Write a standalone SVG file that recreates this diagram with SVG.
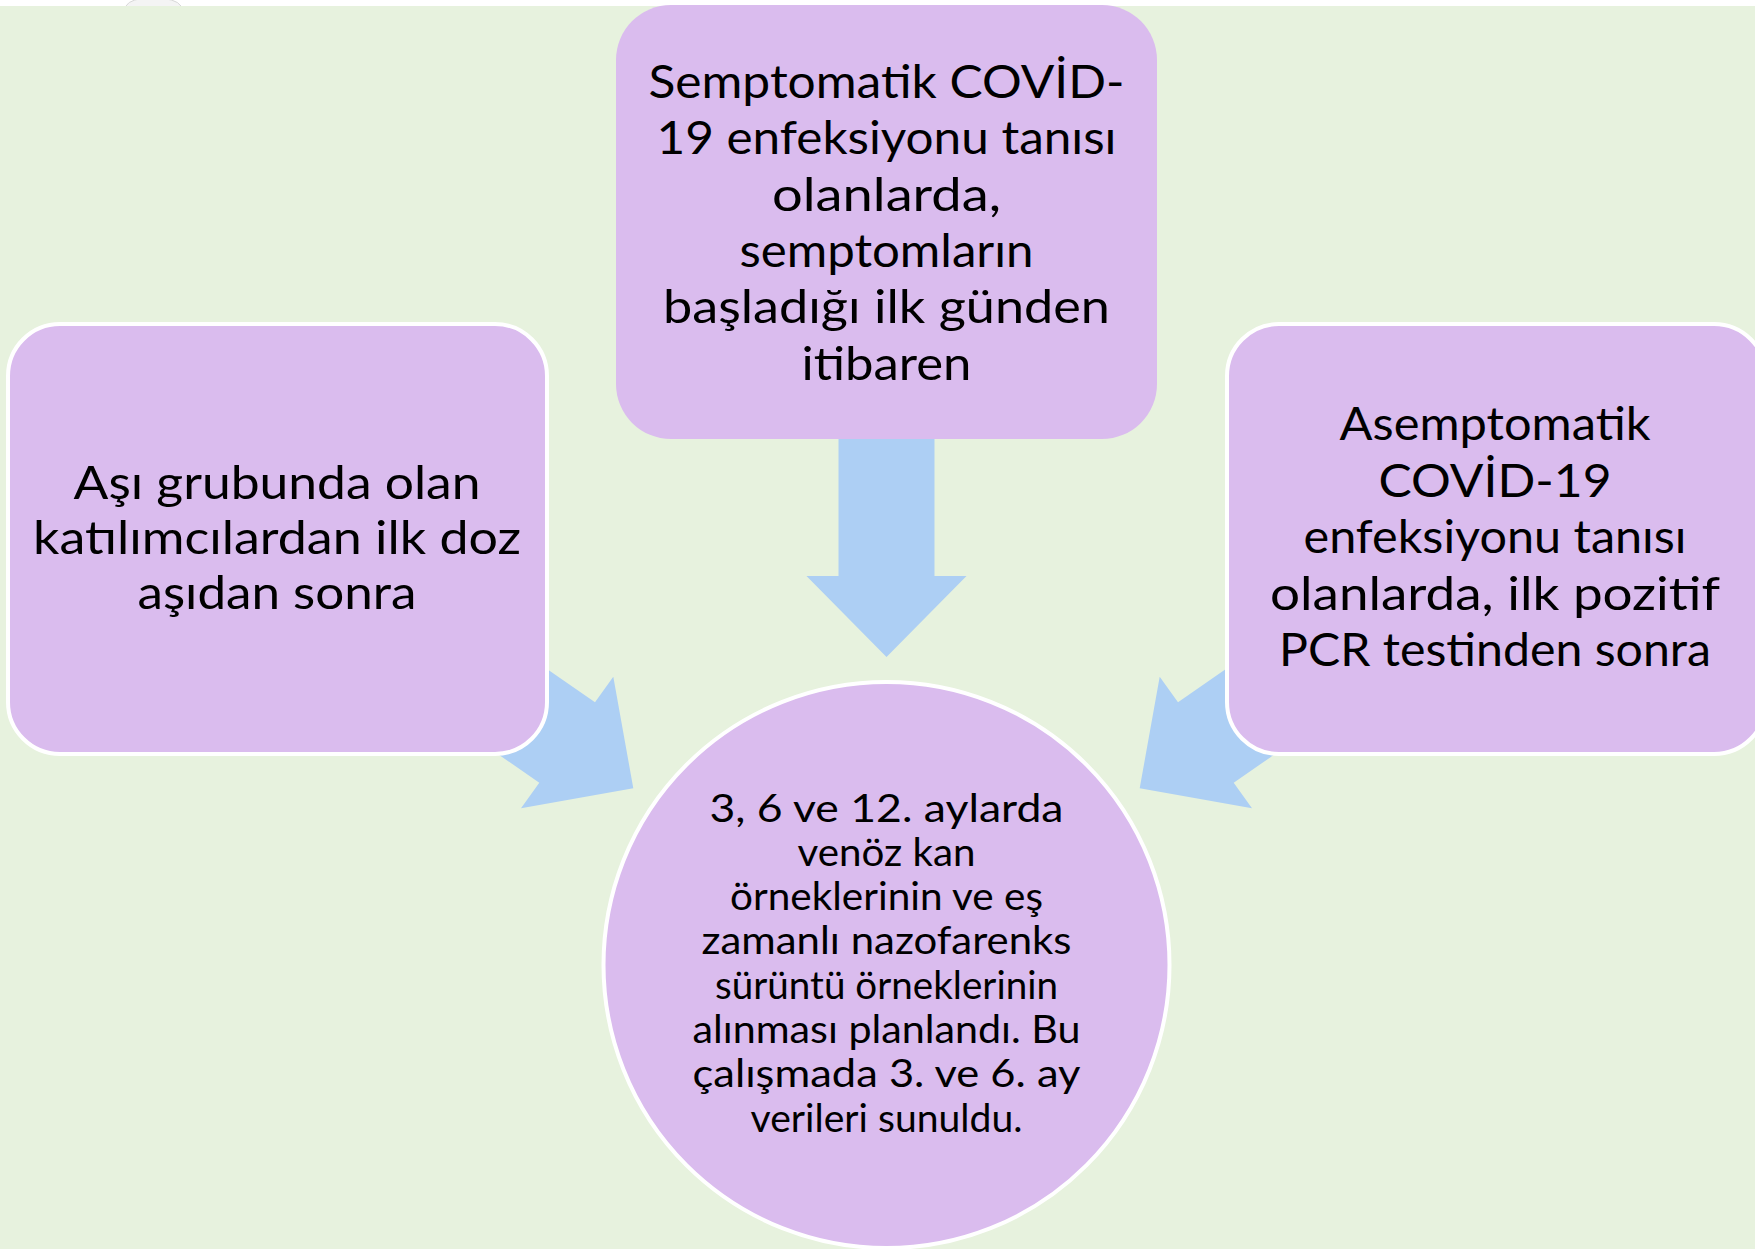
<svg xmlns="http://www.w3.org/2000/svg" width="1755" height="1249" viewBox="0 0 1755 1249">
<style>
.bg{fill:#E7F2DE}
.node{fill:#DABCEE}
.bord{stroke:#FFFFFF;stroke-width:4}
.arrow{fill:#ADCFF4}
.t{font-family:"Lato","Liberation Sans","DejaVu Sans",sans-serif;fill:#000000;text-anchor:middle}
.big{font-size:46px}
.small{font-size:38px}
</style>
<rect x="0" y="0" width="1755" height="1249" fill="#FFFFFF"/>
<rect class="bg" x="0" y="6" width="1755" height="1243"/>
<path d="M126 6 Q130 -2 153 -2 Q176 -2 181 6" fill="#F4F4F4" stroke="#D8D8D8" stroke-width="1"/>
<g id="connectors">
  <polygon class="arrow" points="838.5,420 934.5,420 934.5,576 966.5,576 886.5,657 806.5,576 838.5,576"/>
  <polygon class="arrow" points="430.6,588.3 595,702.3 613.3,676.7 633.3,788.3 521,808.3 539.3,782.7 374.9,668.7"/>
  <polygon class="arrow" points="1342.4,588.3 1178,702.3 1159.7,676.7 1139.7,788.3 1252,808.3 1233.7,782.7 1398.1,668.7"/>
</g>
<g id="node-top">
  <rect class="node" x="616" y="5" width="541" height="434" rx="55" ry="55"/>
  <text class="t big" x="886.5" y="98" textLength="476" lengthAdjust="spacingAndGlyphs">Semptomatik COVİD-</text>
  <text class="t big" x="886.5" y="154.3" textLength="460" lengthAdjust="spacingAndGlyphs">19 enfeksiyonu tanısı</text>
  <text class="t big" x="886.5" y="210.6" textLength="229" lengthAdjust="spacingAndGlyphs">olanlarda,</text>
  <text class="t big" x="886.5" y="267" textLength="294" lengthAdjust="spacingAndGlyphs">semptomların</text>
  <text class="t big" x="886.5" y="323" textLength="447" lengthAdjust="spacingAndGlyphs">başladığı ilk günden</text>
  <text class="t big" x="886.5" y="379.6" textLength="170" lengthAdjust="spacingAndGlyphs">itibaren</text>
</g>
<g id="node-left">
  <rect class="node bord" x="8" y="324" width="539" height="430" rx="52" ry="52"/>
  <text class="t big" x="277" y="498.5" textLength="407" lengthAdjust="spacingAndGlyphs">Aşı grubunda olan</text>
  <text class="t big" x="277" y="553.5" textLength="488" lengthAdjust="spacingAndGlyphs">katılımcılardan ilk doz</text>
  <text class="t big" x="277" y="608.5" textLength="279" lengthAdjust="spacingAndGlyphs">aşıdan sonra</text>
</g>
<g id="node-right">
  <rect class="node bord" x="1227" y="324" width="539" height="430" rx="52" ry="52"/>
  <text class="t big" x="1495" y="440" textLength="311" lengthAdjust="spacingAndGlyphs">Asemptomatik</text>
  <text class="t big" x="1495" y="496.5" textLength="233" lengthAdjust="spacingAndGlyphs">COVİD-19</text>
  <text class="t big" x="1495" y="553" textLength="383" lengthAdjust="spacingAndGlyphs">enfeksiyonu tanısı</text>
  <text class="t big" x="1495" y="609.5" textLength="450" lengthAdjust="spacingAndGlyphs">olanlarda, ilk pozitif</text>
  <text class="t big" x="1495" y="666" textLength="432" lengthAdjust="spacingAndGlyphs">PCR testinden sonra</text>
</g>
<g id="node-center">
  <circle class="node bord" cx="886.5" cy="965" r="283"/>
  <text class="t small" x="886.5" y="821.5" textLength="354" lengthAdjust="spacingAndGlyphs">3, 6 ve 12. aylarda</text>
  <text class="t small" x="886.5" y="865.8" textLength="178" lengthAdjust="spacingAndGlyphs">venöz kan</text>
  <text class="t small" x="886.5" y="910.1" textLength="313" lengthAdjust="spacingAndGlyphs">örneklerinin ve eş</text>
  <text class="t small" x="886.5" y="954.4" textLength="370" lengthAdjust="spacingAndGlyphs">zamanlı nazofarenks</text>
  <text class="t small" x="886.5" y="998.7" textLength="343" lengthAdjust="spacingAndGlyphs">sürüntü örneklerinin</text>
  <text class="t small" x="886.5" y="1043" textLength="388" lengthAdjust="spacingAndGlyphs">alınması planlandı. Bu</text>
  <text class="t small" x="886.5" y="1087.3" textLength="388" lengthAdjust="spacingAndGlyphs">çalışmada 3. ve 6. ay</text>
  <text class="t small" x="886.5" y="1131.6" textLength="272" lengthAdjust="spacingAndGlyphs">verileri sunuldu.</text>
</g>
</svg>
